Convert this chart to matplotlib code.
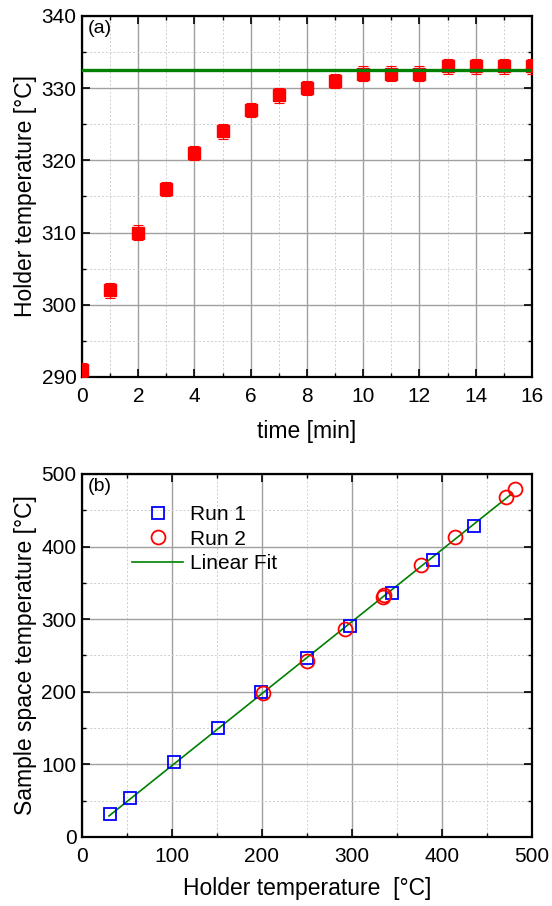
import matplotlib
matplotlib.use('Agg')
import matplotlib.pyplot as plt
from matplotlib.ticker import MultipleLocator

plt.rcParams['font.family'] = ['Liberation Sans', 'DejaVu Sans']

# panel (a): holder temperature vs time
time_min = [0, 1, 2, 3, 4, 5, 6, 7, 8, 9, 10, 11, 12, 13, 14, 15, 16]
holder_temp = [291, 302, 310, 316, 321, 324, 327, 329, 330, 331, 332, 332, 332, 333, 333, 333, 333]
holder_err = [1] * len(time_min)
plateau_temp = 332.5

# panel (b): sample space vs holder temperature
run1_x = [31, 53, 102, 151, 199, 250, 298, 344, 390, 436]
run1_y = [32, 54, 103, 150, 199, 246, 290, 336, 381, 428]
run2_x = [201, 250, 292, 334, 336, 377, 414, 471, 481]
run2_y = [198, 242, 287, 330, 333, 374, 413, 468, 479]
fit_x = [30, 478]
fit_y = [29, 473]

TICK_FS = 15
LABEL_FS = 16.5


def style_axes(ax):
    ax.tick_params(which='both', direction='in', top=True, right=True, labelsize=TICK_FS, pad=4)
    ax.tick_params(axis='x', which='both', pad=7)
    ax.tick_params(which='major', length=6, width=1.2)
    ax.tick_params(which='minor', length=3, width=1.0)
    for s in ax.spines.values():
        s.set_linewidth(1.6)
    ax.grid(which='major', color='#a0a0a0', linewidth=1.0)
    ax.grid(which='minor', color='#cfcfcf', linewidth=0.7, linestyle=(0, (2, 2)))
    ax.set_axisbelow(True)


fig = plt.figure(figsize=(5.52, 9.06), dpi=100)

ax1 = fig.add_axes([0.1486, 0.5839, 0.815, 0.3985])
ax1.errorbar(time_min, holder_temp, yerr=holder_err, fmt='s', color='red', ms=9,
             ecolor='red', elinewidth=0.8, capsize=3.6, capthick=0.8, zorder=3)
ax1.axhline(plateau_temp, color='#008000', linewidth=2.4, zorder=4)
ax1.set_xlim(0, 16)
ax1.set_ylim(290, 340)
ax1.xaxis.set_major_locator(MultipleLocator(2))
ax1.xaxis.set_minor_locator(MultipleLocator(1))
ax1.yaxis.set_major_locator(MultipleLocator(10))
ax1.yaxis.set_minor_locator(MultipleLocator(5))
style_axes(ax1)
ax1.set_xlabel('time [min]', fontsize=LABEL_FS, labelpad=10)
ax1.set_ylabel('Holder temperature [°C]', fontsize=LABEL_FS, labelpad=3)
ax1.text(0.012, 0.988, '(a)', transform=ax1.transAxes, fontsize=14, va='top', ha='left')

ax2 = fig.add_axes([0.1486, 0.0762, 0.815, 0.4007])
ax2.plot(fit_x, fit_y, color='#008000', linewidth=1.2, label='Linear Fit', zorder=2)
ax2.plot(run1_x, run1_y, 's', mfc='none', mec='blue', mew=1.3, ms=8.5, label='Run 1', zorder=3)
ax2.plot(run2_x, run2_y, 'o', mfc='none', mec='red', mew=1.3, ms=10, label='Run 2', zorder=3)
ax2.set_xlim(0, 500)
ax2.set_ylim(0, 500)
ax2.xaxis.set_major_locator(MultipleLocator(100))
ax2.xaxis.set_minor_locator(MultipleLocator(50))
ax2.yaxis.set_major_locator(MultipleLocator(100))
ax2.yaxis.set_minor_locator(MultipleLocator(50))
style_axes(ax2)
ax2.set_xlabel('Holder temperature  [°C]', fontsize=LABEL_FS, labelpad=8)
ax2.set_ylabel('Sample space temperature [°C]', fontsize=LABEL_FS, labelpad=3)
ax2.text(0.012, 0.988, '(b)', transform=ax2.transAxes, fontsize=14, va='top', ha='left')
handles, labels = ax2.get_legend_handles_labels()
order = [1, 2, 0]
ax2.legend([handles[i] for i in order], [labels[i] for i in order], loc='upper left',
           bbox_to_anchor=(0.07, 0.965), frameon=False, fontsize=15, handlelength=2.45,
           handletextpad=0.3, labelspacing=0.25)

fig.savefig('out.png', dpi=100)
